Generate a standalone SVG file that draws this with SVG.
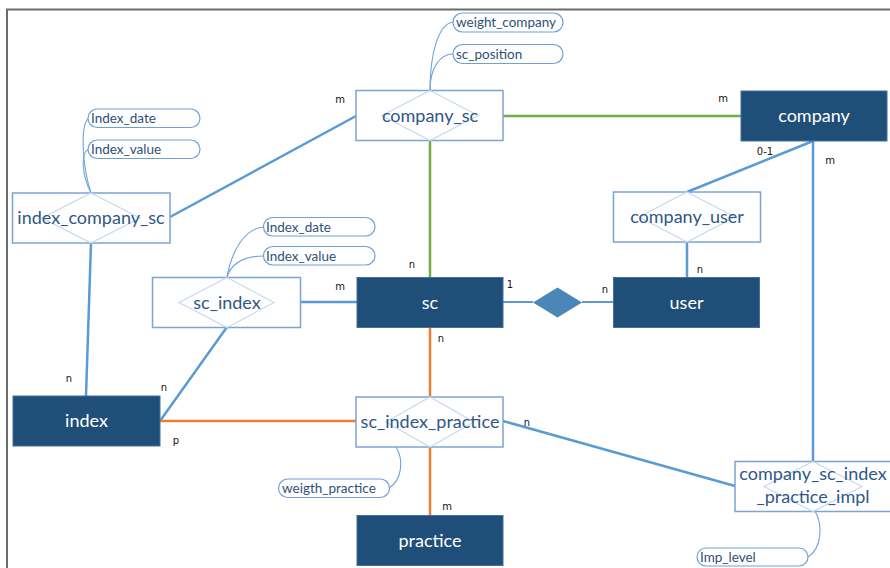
<svg xmlns="http://www.w3.org/2000/svg" width="890" height="568" viewBox="0 0 890 568">
<style>
.ent{fill:#1f4e79;stroke:#41719c;stroke-width:1}
.etx{font-family:Lato,"Open Sans",sans-serif;font-size:18px;fill:#ffffff;text-anchor:middle}
.rel{fill:#ffffff;stroke:#7ba4d4;stroke-width:1.5}
.dia{fill:none;stroke:#c6d9f0;stroke-width:1.2}
.rtx{font-family:Lato,"Open Sans",sans-serif;font-size:18px;fill:#2f5888;text-anchor:middle}
.pill{fill:#ffffff;stroke:#6f9fd5;stroke-width:1.2}
.ptx{font-family:Lato,"Open Sans",sans-serif;font-size:13.5px;fill:#2f4f78}
.blue{stroke:#5b9bd5;stroke-width:2.5;fill:none}
.green{stroke:#70ad47;stroke-width:2.5;fill:none}
.orange{stroke:#ed7d31;stroke-width:2.5;fill:none}
.att{stroke:#6fa3db;stroke-width:1.1;fill:none}
.card{font-family:"DejaVu Sans",sans-serif;font-size:10px;fill:#111111;text-anchor:middle}
</style>
<rect x="0" y="0" width="890" height="568" fill="#ffffff"/>
<path d="M7,568 V9.5 H890" fill="none" stroke="#6b6b6b" stroke-width="2"/>

<g id="connectors">
<line class="blue" x1="356" y1="116" x2="170" y2="217"/>
<line class="green" x1="503" y1="116" x2="741" y2="116"/>
<line class="green" x1="430" y1="140" x2="430" y2="277"/>
<line class="blue" x1="91" y1="243" x2="86" y2="396"/>
<line class="blue" x1="301" y1="302" x2="357" y2="302"/>
<line class="blue" x1="227" y1="327" x2="160" y2="421"/>
<line class="orange" x1="160" y1="421" x2="356" y2="421"/>
<line class="orange" x1="430" y1="327" x2="430" y2="397"/>
<line class="orange" x1="430" y1="447" x2="430" y2="515"/>
<line class="blue" x1="503" y1="421" x2="735" y2="486"/>
<line class="blue" x1="813" y1="141" x2="813" y2="461"/>
<line class="blue" x1="813" y1="141" x2="687" y2="192"/>
<line class="blue" x1="687" y1="242" x2="687" y2="277"/>
<line class="blue" x1="503" y1="302" x2="533" y2="302" style="stroke-width:2"/>
<line class="blue" x1="582" y1="302" x2="613" y2="302" style="stroke-width:2"/>
<path class="att" d="M430,90 C430,55 438,24 453,22"/>
<path class="att" d="M430,90 C430,68 440,54 453,54"/>
<path class="att" d="M91,193 C82,165 80,124 89,118"/>
<path class="att" d="M91,193 C82,175 80,153 89,149"/>
<path class="att" d="M227,277 C232,250 245,228 264,227"/>
<path class="att" d="M227,277 C232,262 245,256 264,256"/>
<path class="att" d="M396,447 C404,460 402,480 389,488"/>
<path class="att" d="M815,511 C823,525 822,548 808,557"/>
</g>

<g id="company_sc">
<rect class="rel" x="356" y="90.5" width="147" height="50"/>
<polygon class="dia" points="430,90.5 478,115.5 430,140.5 382,115.5"/>
<text class="rtx" x="430" y="121.5">company_sc</text>
</g>
<g id="weight_company">
<rect class="pill" x="453" y="13" width="110" height="19" rx="9.5"/>
<text class="ptx" x="456" y="27">weight_company</text>
</g>
<g id="sc_position">
<rect class="pill" x="453" y="44.5" width="110" height="19" rx="9.5"/>
<text class="ptx" x="456" y="58.5">sc_position</text>
</g>

<g id="index_company_sc">
<rect class="rel" x="12.5" y="193" width="157.5" height="50"/>
<polygon class="dia" points="91,193 140,218 91,243 42,218"/>
<text class="rtx" x="91" y="224">index_company_sc</text>
</g>
<g id="ics_index_date">
<rect class="pill" x="88" y="109" width="112" height="18.5" rx="9.25"/>
<text class="ptx" x="91" y="123">Index_date</text>
</g>
<g id="ics_index_value">
<rect class="pill" x="88" y="140" width="112" height="18.5" rx="9.25"/>
<text class="ptx" x="91" y="154">Index_value</text>
</g>

<g id="sc_index">
<rect class="rel" x="152.5" y="277.5" width="148" height="50"/>
<polygon class="dia" points="227,277.5 274,302.5 227,327.5 179,302.5"/>
<text class="rtx" x="227" y="308.5">sc_index</text>
</g>
<g id="sci_index_date">
<rect class="pill" x="263.5" y="217.5" width="111.5" height="18.5" rx="9.25"/>
<text class="ptx" x="266" y="231.5">Index_date</text>
</g>
<g id="sci_index_value">
<rect class="pill" x="263.5" y="246.5" width="111.5" height="18.5" rx="9.25"/>
<text class="ptx" x="266" y="260.5">Index_value</text>
</g>

<g id="sc">
<rect class="ent" x="357" y="277.5" width="146" height="50"/>
<text class="etx" x="430" y="308.5">sc</text>
</g>

<g id="sc_user_rel">
<polygon points="557.5,287.5 582,302.5 557.5,317.5 533,302.5" fill="#4a86b8"/>
</g>

<g id="user">
<rect class="ent" x="613.5" y="277.5" width="146" height="50"/>
<text class="etx" x="686.5" y="308.5">user</text>
</g>

<g id="company">
<rect class="ent" x="741" y="91" width="146" height="50"/>
<text class="etx" x="814" y="122">company</text>
</g>

<g id="company_user">
<rect class="rel" x="613.5" y="192" width="147" height="50"/>
<polygon class="dia" points="687,192 735,217 687,242 639,217"/>
<text class="rtx" x="687" y="223">company_user</text>
</g>

<g id="index">
<rect class="ent" x="13" y="396" width="147" height="50"/>
<text class="etx" x="86.5" y="427">index</text>
</g>

<g id="sc_index_practice">
<rect class="rel" x="356" y="397" width="147" height="50"/>
<polygon class="dia" points="430,397 474,422 430,447 386,422"/>
<text class="rtx" x="430" y="428">sc_index_practice</text>
</g>
<g id="weigth_practice">
<rect class="pill" x="278.5" y="479" width="111" height="18.5" rx="9.25"/>
<text class="ptx" x="282" y="493">weigth_practice</text>
</g>

<g id="practice">
<rect class="ent" x="357" y="515.5" width="146" height="50"/>
<text class="etx" x="430" y="546.5">practice</text>
</g>

<g id="company_sc_index_practice_impl">
<rect class="rel" x="735" y="461.5" width="160" height="50"/>
<polygon class="dia" points="813,461.5 862,486.5 813,511.5 764,486.5"/>
<text class="rtx" x="813" y="480">company_sc_index</text>
<text class="rtx" x="813" y="503">_practice_impl</text>
</g>
<g id="imp_level">
<rect class="pill" x="697" y="548" width="111" height="18" rx="9"/>
<text class="ptx" x="700" y="561.5">Imp_level</text>
</g>

<g id="cardinalities">
<text class="card" x="340" y="103">m</text>
<text class="card" x="723" y="102">m</text>
<text class="card" x="765" y="155">0-1</text>
<text class="card" x="830" y="164">m</text>
<text class="card" x="700" y="273">n</text>
<text class="card" x="510" y="288">1</text>
<text class="card" x="605" y="293">n</text>
<text class="card" x="412" y="268">n</text>
<text class="card" x="340" y="290">m</text>
<text class="card" x="441" y="342">n</text>
<text class="card" x="527" y="426">n</text>
<text class="card" x="69" y="382">n</text>
<text class="card" x="164" y="391">n</text>
<text class="card" x="176" y="444">p</text>
<text class="card" x="447" y="510">m</text>
</g>
</svg>
